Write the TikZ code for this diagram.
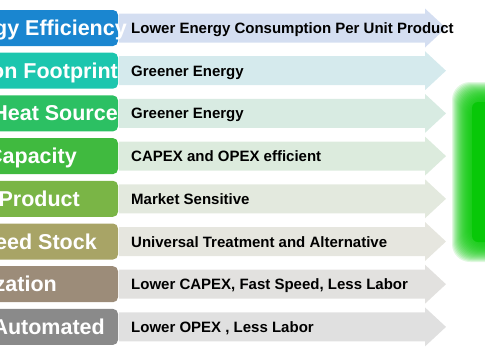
\documentclass[tikz,border=0pt]{standalone}
\usepackage{fontspec}
\setmainfont{Liberation Sans}
\usetikzlibrary{positioning}
\definecolor{boxA}{HTML}{1A86D0}
\definecolor{boxB}{HTML}{1CC6AE}
\definecolor{boxC}{HTML}{2CC063}
\definecolor{boxD}{HTML}{40BA3F}
\definecolor{boxE}{HTML}{7AB546}
\definecolor{boxF}{HTML}{A8A466}
\definecolor{boxG}{HTML}{9C8C79}
\definecolor{boxH}{HTML}{8A8A8A}
\definecolor{arrA}{HTML}{D4DEF1}
\definecolor{arrB}{HTML}{D5EAED}
\definecolor{arrC}{HTML}{D8EBE2}
\definecolor{arrD}{HTML}{DCEBDD}
\definecolor{arrE}{HTML}{E3E9DE}
\definecolor{arrF}{HTML}{E6E6DF}
\definecolor{arrG}{HTML}{E2E1DF}
\definecolor{arrH}{HTML}{E0E0E0}
\definecolor{glow}{HTML}{08C808}
\tikzset{
  bar/.style={fill=#1, rounded corners=5pt},
  band/.style={fill=#1},
  tagtext/.style={anchor=base east, inner sep=0pt, text=white, font=\bfseries\fontsize{21.5}{25}\selectfont},
  desctext/.style={anchor=base west, inner sep=0pt, font=\bfseries\fontsize{15}{18}\selectfont},
}

\begin{document}
\begin{tikzpicture}[x=1pt, y=-1pt]
  \path[use as bounding box, clip] (0,0) rectangle (485,360);
  % rows: box colour / arrow colour / right end of tag / tag / description
  \foreach \i/\bc/\ac/\xe/\lab/\desc in {
      1/boxA/arrA/127/gy Efficiency/Lower Energy Consumption Per Unit Product,
      2/boxB/arrB/118/on Footprint/Greener Energy,
      3/boxC/arrC/118/Heat Source/Greener Energy,
      4/boxD/arrD/77/Capacity/CAPEX and OPEX efficient,
      5/boxE/arrE/80/Product/Market Sensitive,
      6/boxF/arrF/97/eed Stock/Universal Treatment and Alternative,
      7/boxG/arrG/57/zation/{Lower CAPEX, Fast Speed, Less Labor},
      8/boxH/arrH/105/Automated/{Lower OPEX , Less Labor}}{
    \pgfmathsetmacro\y{28+42.7*(\i-1)}
    \fill[bar=\bc] (-20,\y-18) rectangle (118,\y+18);
    \fill[band=\ac] (119,\y-14.5) -- (425,\y-14.5) -- (425,\y-19.5) -- (446,\y)
      -- (425,\y+19.5) -- (425,\y+14.5) -- (119,\y+14.5) -- cycle;
    \node[tagtext] (tag\i) at (\xe,\y+7.5) {\lab};
    \node[desctext] (desc\i) at (131,\y+5.5) {\desc};
  }
  % soft green block
  \foreach \k in {20,19,...,1}
    \fill[glow, opacity=0.12, rounded corners=18pt] (472-\k,102-\k) rectangle (510,242+\k);
  \fill[glow, rounded corners=6pt] (472,102) rectangle (510,242);
\end{tikzpicture}
\end{document}
